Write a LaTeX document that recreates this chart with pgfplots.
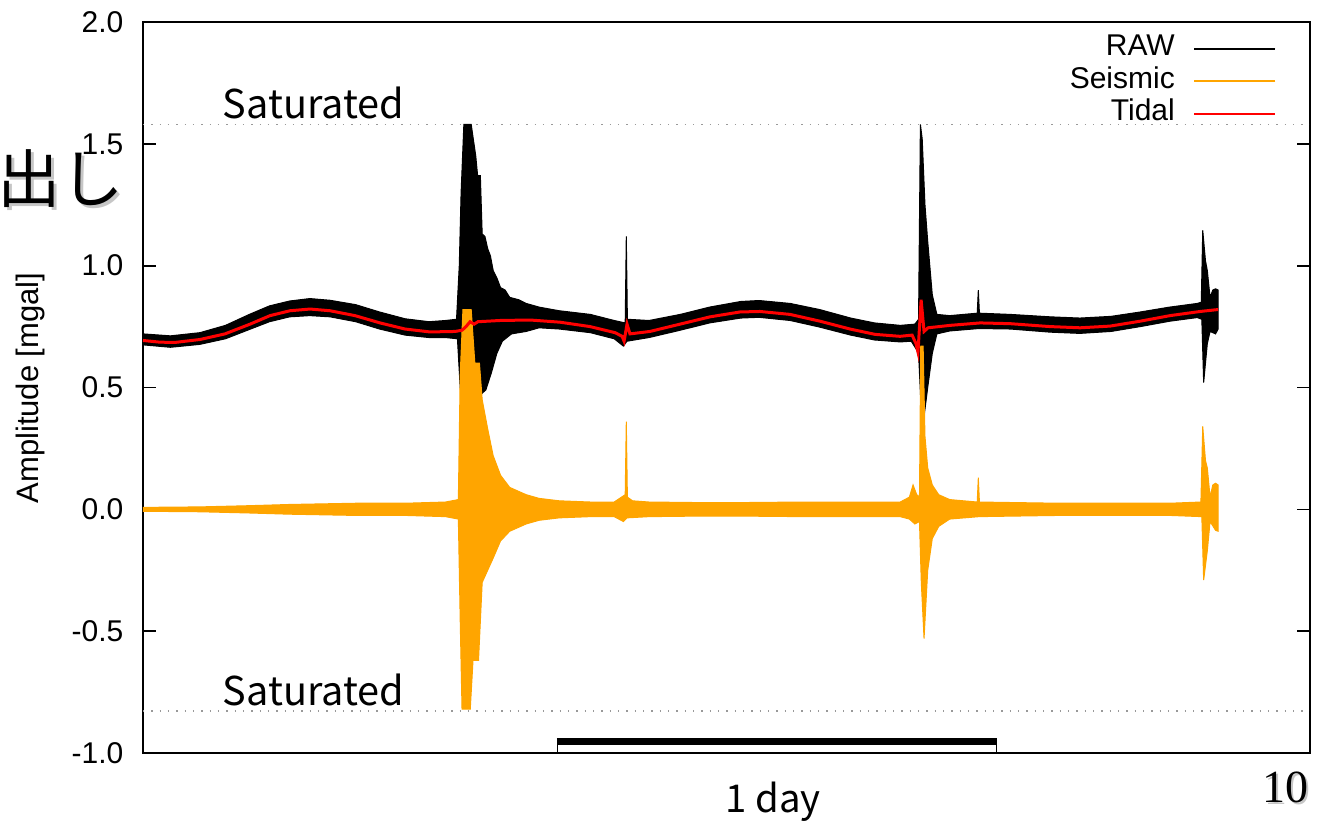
\documentclass[border=0pt]{standalone}
\usepackage{pgfplots}
\pgfplotsset{compat=1.18}
\usepackage{fontspec}
\setmainfont{Liberation Sans}
\newfontfamily\jpfont{Noto Sans CJK JP}
\newfontfamily\numfont{Liberation Serif}
\definecolor{seis}{RGB}{255,165,0}
\definecolor{tide}{RGB}{255,0,0}

\begin{document}
\begin{tikzpicture}
\begin{axis}[
    scale only axis,
    width=350.1pt, height=219.3pt,
    xmin=0, xmax=63.65,
    ymin=-1, ymax=2,
    xtick=\empty,
    ytick={-1,-0.5,0,0.5,1,1.5,2},
    yticklabel style={/pgf/number format/fixed, /pgf/number format/fixed zerofill,
        /pgf/number format/precision=1, inner sep=0pt, xshift=-5.7pt},
    /pgf/number format/assume math mode=true,
    tick label style={font=\fontsize{9}{10}\selectfont},
    tick align=inside,
    major tick length=3.9pt,
    tick style={line width=0.5pt, black},
    axis line style={line width=0.7pt},
    legend plot pos=right,
    legend cell align=right,
    legend style={draw=none, fill=none, inner sep=0pt, row sep=0pt,
        font=\fontsize{9}{10}\selectfont,
        nodes={inner sep=0pt, text height=7pt, text depth=2.75pt},
        at={(rel axis cs:0.9717,0.9867)}, anchor=north east},
]
% saturation levels
\draw[gray!80, line width=0.5pt, dash pattern=on 0.4pt off 2.1pt]
    (axis cs:0,1.58) -- (axis cs:63.65,1.58);
\draw[gray!80, line width=0.5pt, dash pattern=on 0.4pt off 2.1pt]
    (axis cs:0,-0.829) -- (axis cs:63.65,-0.829);
\node[anchor=base west, inner sep=0pt, font=\jpfont\fontsize{11.9}{12}\selectfont]
    at (axis cs:4.31,1.604) {Saturated};
\node[anchor=base west, inner sep=0pt, font=\jpfont\fontsize{11.9}{12}\selectfont]
    at (axis cs:4.31,-0.804) {Saturated};

% RAW envelope (upper, then lower back)
\addplot[fill=black, draw=black, line width=0.3pt,
    legend image code/.code={\path (0pt,0pt); \draw[black, line width=0.6pt] (5.4pt,0pt) -- (29.7pt,0pt);}]
    coordinates {
    (0,0.72) (1.5,0.712) (3.1,0.725) (4.5,0.755) (5.8,0.80) (6.9,0.835)
    (8.0,0.855) (9.1,0.865) (10.2,0.858) (11.6,0.84) (12.9,0.81) (14.3,0.782)
    (15.6,0.77) (16.5,0.775) (17.1,0.78)
    (17.25,1.0) (17.35,1.30) (17.5,1.58) (17.9,1.58) (18.15,1.45) (18.25,1.37)
    (18.4,1.37) (18.5,1.13) (18.65,1.12) (18.8,1.07) (18.95,1.04) (19.1,0.98)
    (19.3,0.95) (19.5,0.91) (19.75,0.90) (20.0,0.87)
    (20.5,0.86) (20.9,0.845) (21.6,0.83) (22.7,0.815) (24.4,0.80) (25.7,0.775) (26.3,0.765)
    (26.36,1.12) (26.42,0.78) (27.6,0.775) (29.3,0.80) (30.9,0.83) (32.6,0.853)
    (33.6,0.857) (35.3,0.845) (36.9,0.82) (38.6,0.785) (39.9,0.765) (41.3,0.755)
    (42.1,0.76) (42.3,0.78) (42.4,1.58) (42.5,1.52) (42.65,1.25) (42.8,1.10)
    (43.05,0.88) (43.3,0.80) (44.0,0.795) (45.5,0.805) (45.56,0.9) (45.62,0.805)
    (47.3,0.80) (49.5,0.79) (51.1,0.785) (52.8,0.792) (54.4,0.81) (56.0,0.83)
    (57.5,0.845) (57.72,0.85) (57.8,1.145) (57.95,1.02) (58.05,0.98) (58.2,0.87)
    (58.35,0.9) (58.5,0.905) (58.64,0.9)
    (58.64,0.74) (58.5,0.72) (58.2,0.73) (58.05,0.68) (57.85,0.52) (57.75,0.78)
    (57.5,0.787) (56.0,0.772) (54.4,0.75) (52.8,0.73) (51.1,0.722) (49.5,0.727)
    (47.3,0.74) (45.6,0.742) (44.0,0.732) (43.3,0.72) (43.05,0.64) (42.8,0.5)
    (42.6,0.38) (42.45,0.40) (42.3,0.64) (42.15,0.66) (41.9,0.69) (41.3,0.687)
    (39.9,0.695) (38.6,0.715) (36.9,0.748) (35.3,0.775) (33.6,0.788) (32.6,0.785)
    (30.9,0.765) (29.3,0.735) (27.6,0.705) (26.4,0.69) (26.2,0.67) (25.7,0.70)
    (24.4,0.725) (22.7,0.74) (21.6,0.745) (20.9,0.73) (20.1,0.72) (19.6,0.69)
    (19.3,0.64) (19.0,0.56) (18.7,0.49) (18.4,0.47) (18.0,0.45) (17.5,0.40)
    (17.3,0.5) (17.15,0.70) (16.5,0.705) (15.6,0.705) (14.3,0.715) (12.9,0.74)
    (11.6,0.77) (10.2,0.79) (9.1,0.795) (8.0,0.79) (6.9,0.77) (5.8,0.738)
    (4.5,0.70) (3.1,0.677) (1.5,0.665) (0,0.675)
};
\addlegendentry{RAW}

% Seismic envelope
\addplot[fill=seis, draw=seis, line width=0.3pt,
    legend image code/.code={\path (0pt,0pt); \draw[seis, line width=0.6pt] (5.4pt,0pt) -- (29.7pt,0pt);}]
    coordinates {
    (0,0.008) (3.1,0.01) (5.8,0.015) (8.0,0.02) (11.6,0.025) (14.3,0.025)
    (16.5,0.03) (17.2,0.04) (17.3,0.55) (17.45,0.82) (17.9,0.82) (18.1,0.60)
    (18.35,0.60) (18.5,0.45) (18.8,0.33) (19.1,0.22) (19.5,0.14) (20.0,0.09)
    (20.9,0.06) (21.6,0.045) (22.7,0.035) (24.4,0.03) (25.7,0.03) (26.1,0.05)
    (26.3,0.06) (26.36,0.36) (26.42,0.05) (26.7,0.035) (27.6,0.03) (30,0.028)
    (33,0.028) (36,0.03) (39,0.03) (41.3,0.03) (41.8,0.05) (42.0,0.10)
    (42.2,0.06) (42.35,0.05) (42.42,0.67) (42.55,0.67) (42.65,0.3) (42.8,0.17)
    (43.05,0.1) (43.4,0.06) (44,0.04) (45.5,0.03) (45.56,0.13) (45.62,0.03)
    (47.3,0.028) (50,0.025) (53,0.025) (56,0.025) (57.7,0.03) (57.8,0.34)
    (57.95,0.2) (58.05,0.17) (58.2,0.05) (58.35,0.1) (58.5,0.107) (58.64,0.1)
    (58.64,-0.09) (58.5,-0.086) (58.2,-0.05) (58.05,-0.17) (57.85,-0.29)
    (57.75,-0.03) (56,-0.025) (53,-0.025) (50,-0.025) (47.3,-0.028) (45.6,-0.03)
    (44,-0.04) (43.4,-0.07) (43.05,-0.12) (42.8,-0.25) (42.6,-0.53) (42.45,-0.3)
    (42.35,-0.05) (42.1,-0.06) (41.8,-0.04) (41.3,-0.03) (39,-0.03) (36,-0.03)
    (33,-0.028) (30,-0.028) (27.6,-0.03) (26.4,-0.035) (26.2,-0.05) (25.7,-0.03)
    (24.4,-0.03) (22.7,-0.035) (21.6,-0.045) (20.9,-0.06) (20.0,-0.09)
    (19.5,-0.13) (19.1,-0.2) (18.8,-0.25) (18.5,-0.3) (18.3,-0.62) (18.0,-0.62)
    (17.85,-0.82) (17.4,-0.82) (17.3,-0.45) (17.2,-0.04) (16.5,-0.03)
    (14.3,-0.025) (11.6,-0.025) (8.0,-0.02) (5.8,-0.015) (3.1,-0.01) (0,-0.008)
};
\addlegendentry{Seismic}

% Tidal model
\addplot[tide, line width=0.9pt,
    legend image code/.code={\path (0pt,0pt); \draw[tide, line width=0.6pt] (5.4pt,0pt) -- (29.7pt,0pt);}]
    coordinates {
    (0,0.693) (0.93,0.686) (1.75,0.685) (3.11,0.697) (4.47,0.72) (5.84,0.76)
    (6.93,0.795) (8.02,0.815) (9.11,0.822) (10.2,0.815) (11.56,0.795)
    (12.93,0.765) (14.29,0.74) (15.65,0.728) (17.02,0.73) (17.4,0.735)
    (17.62,0.75) (17.84,0.77) (18.06,0.76) (18.27,0.77) (19.47,0.775)
    (21.11,0.777) (22.75,0.768) (24.38,0.75) (25.75,0.725) (26.13,0.71)
    (26.24,0.69) (26.4,0.76) (26.56,0.72) (27.65,0.73) (29.29,0.76) (30.93,0.79)
    (32.56,0.81) (33.65,0.812) (35.29,0.8) (36.93,0.772) (38.56,0.74)
    (39.93,0.718) (41.29,0.71) (41.95,0.715) (42.16,0.68) (42.27,0.645)
    (42.44,0.86) (42.6,0.73) (42.82,0.745) (44.02,0.755) (45.66,0.765)
    (47.29,0.762) (49.47,0.75) (51.11,0.745) (52.75,0.752) (54.38,0.772)
    (56.02,0.795) (57.66,0.812) (58.64,0.82)
};
\addlegendentry{Tidal}

% one-day scale bar
\draw[line width=2.1pt] (axis cs:22.58,-0.952) -- (axis cs:46.58,-0.952);
\draw[line width=0.5pt] (axis cs:22.6,-0.952) -- (axis cs:22.6,-1);
\draw[line width=0.5pt] (axis cs:46.56,-0.952) -- (axis cs:46.56,-1);
\end{axis}

\node[rotate=90, font=\fontsize{9.3}{10}\selectfont] at (-33.9pt,109.5pt)
    {Amplitude [mgal]};
\node[anchor=base, inner sep=0pt, font=\jpfont\fontsize{11.5}{12}\selectfont]
    at (189pt,-18pt) {1 day};
\node[anchor=base, inner sep=0pt, gray!45, font=\numfont\fontsize{13.8}{14}\selectfont]
    at (343.2pt,-15.6pt) {10};
\node[anchor=base, inner sep=0pt, font=\numfont\fontsize{13.8}{14}\selectfont]
    at (342.6pt,-15pt) {10};
\node[inner sep=0pt, gray!45, font=\jpfont\fontsize{19}{20}\selectfont]
    at (-23.8pt,171.4pt) {出し};
\node[inner sep=0pt, font=\jpfont\fontsize{19}{20}\selectfont]
    at (-24.6pt,172.2pt) {出し};

\pgfresetboundingbox
\path[use as bounding box] (-42.9pt,-20.4pt) rectangle (353.4pt,225.9pt);
\end{tikzpicture}
\end{document}
